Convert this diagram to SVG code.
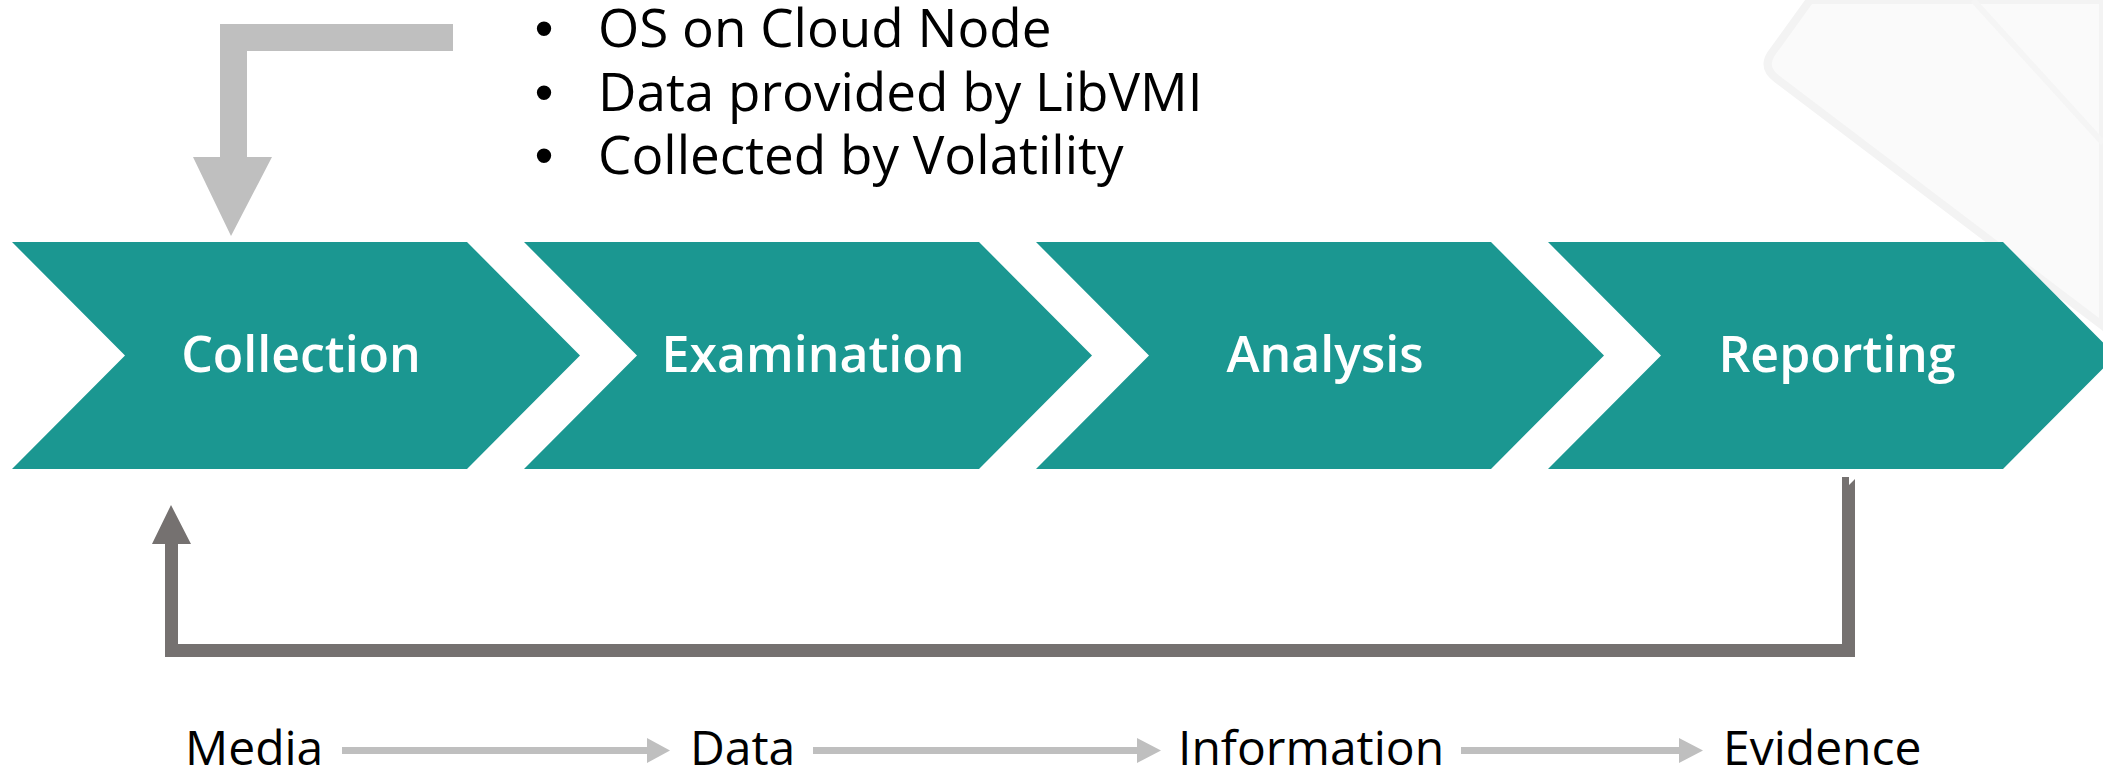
<svg xmlns="http://www.w3.org/2000/svg" width="2103" height="769" viewBox="0 0 2103 769">
  <style>
    .chev { fill: #1b9791; }
    .chevtext { font-family: "Open Sans", "Liberation Sans", sans-serif; font-weight: 600; font-size: 50px; fill: #ffffff; text-anchor: middle; }
    .bullet { font-family: "Open Sans", "Liberation Sans", sans-serif; font-size: 53px; fill: #000000; }
    .dot { font-family: "Liberation Sans", Arial, sans-serif; font-size: 53px; fill: #000000; text-anchor: middle; }
    .label { font-family: "Open Sans", "Liberation Sans", sans-serif; font-size: 48px; fill: #000000; }
    .light { fill: #bfbfbf; }
    .dark { fill: #757170; }
  </style>
  <rect width="2103" height="769" fill="#ffffff"/>
  <!-- faint background shape -->
  <g id="background">
    <path d="M1810,0 L1771,54 Q1762,68 1777,79 L2103,326 L2103,0 Z" fill="#fafafa" stroke="#f3f3f3" stroke-width="8"/>
    <path d="M1973,0 L2103,143" stroke="#f5f5f5" stroke-width="6" fill="none"/>
  </g>

  <g id="node-collection">
    <polygon class="chev" points="12,242 467,242 580,355.5 467,469 12,469 125,355.5"/>
    <text class="chevtext" x="301" y="372">Collection</text>
  </g>
  <g id="node-examination">
    <polygon class="chev" points="524,242 979,242 1092,355.5 979,469 524,469 637,355.5"/>
    <text class="chevtext" x="813" y="372">Examination</text>
  </g>
  <g id="node-analysis">
    <polygon class="chev" points="1036,242 1491,242 1604,355.5 1491,469 1036,469 1149,355.5"/>
    <text class="chevtext" x="1325" y="372">Analysis</text>
  </g>
  <g id="node-reporting">
    <polygon class="chev" points="1548,242 2003,242 2116,355.5 2003,469 1548,469 1661,355.5"/>
    <text class="chevtext" x="1837" y="372">Reporting</text>
  </g>

  <g id="input-notes">
    <text class="dot" x="544" y="47">•</text>
    <text class="bullet" x="598" y="47">OS on Cloud Node</text>
    <text class="dot" x="544" y="111">•</text>
    <text class="bullet" x="598" y="111">Data provided by LibVMI</text>
    <text class="dot" x="544" y="174">•</text>
    <text class="bullet" x="598" y="174">Collected by Volatility</text>
  </g>

  <g id="stage-labels">
    <text class="label" x="185" y="765">Media</text>
    <text class="label" x="690" y="765">Data</text>
    <text class="label" x="1178" y="765">Information</text>
    <text class="label" x="1723" y="765">Evidence</text>
  </g>

  <g id="connectors">
    <!-- input arrow into Collection -->
    <polygon class="light" points="453,24 220,24 220,157 193,157 231,236 272,157 247,157 247,51 453,51"/>
    <!-- feedback loop from Reporting back to Collection -->
    <polygon class="dark" points="1842,477 1849,477 1849,485 1855,479 1855,657 165,657 165,544 152,544 171,505 191,544 178,544 178,644 1842,644"/>
    <!-- stage arrows -->
    <polygon class="light" points="342,747 647,747 647,738 670,750.5 647,763 647,754 342,754"/>
    <polygon class="light" points="813,747 1137,747 1137,738 1161,750.5 1137,763 1137,754 813,754"/>
    <polygon class="light" points="1461,747 1679,747 1679,738 1703,750.5 1679,763 1679,754 1461,754"/>
  </g>
</svg>
